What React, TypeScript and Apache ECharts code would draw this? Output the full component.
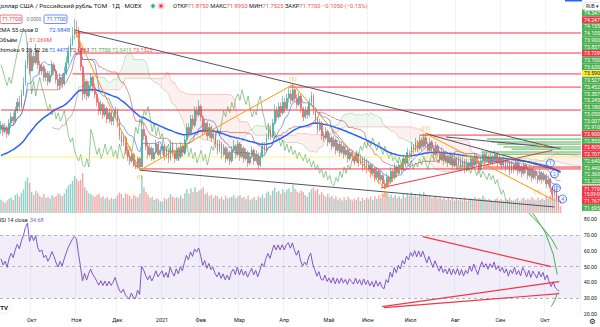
import React, { useEffect, useRef } from 'react';
import * as echarts from 'echarts';

type Row = [number, number, number, number]; // close, high, low, volume (mln)

const sep2020: Row[] = [
  [75.5, 75.7, 75.1, 62], [75.2, 75.6, 75.0, 55], [75.4, 75.6, 75.1, 48], [75.1, 75.5, 74.9, 58], [75.6, 75.8, 75.0, 66],
  [75.9, 76.1, 75.5, 72], [75.7, 76.1, 75.5, 60], [76.2, 76.4, 75.6, 84], [76.6, 76.8, 76.1, 90], [76.4, 76.9, 76.2, 76],
  [77.0, 77.2, 76.3, 95], [77.5, 77.8, 76.9, 110], [78.4, 78.6, 77.4, 150], [79.0, 79.5, 78.2, 165], [78.1, 79.2, 77.9, 140],
];
const oct2020: Row[] = [
  [78.8, 79.1, 78.1, 98], [78.5, 79.0, 78.3, 85], [79.1, 79.4, 78.4, 102], [78.4, 79.2, 78.2, 94], [78.1, 78.6, 77.9, 80],
  [78.3, 78.5, 77.9, 72], [77.8, 78.4, 77.6, 88], [78.0, 78.2, 77.6, 70], [77.6, 78.1, 77.4, 76], [77.9, 78.1, 77.5, 68],
  [78.4, 78.6, 77.8, 82], [78.1, 78.5, 77.9, 74], [77.7, 78.2, 77.5, 79], [77.4, 77.9, 77.2, 92], [77.8, 78.0, 77.2, 86],
  [77.5, 78.0, 77.3, 78], [78.0, 78.3, 77.4, 90], [78.5, 78.8, 77.9, 112], [79.0, 79.3, 78.4, 128], [79.4, 79.7, 78.8, 135],
  [79.8, 80.2, 79.3, 150], [80.1, 80.6, 79.6, 172],
];
const nov2020: Row[] = [
  [80.0, 80.5, 79.7, 160], [79.2, 80.2, 79.0, 148], [78.3, 79.4, 78.1, 155], [77.0, 78.4, 76.7, 185], [77.6, 77.9, 76.8, 120],
  [76.9, 77.7, 76.7, 105], [77.4, 77.6, 76.8, 92], [77.8, 78.0, 77.2, 88], [77.3, 77.9, 77.1, 80], [77.0, 77.5, 76.8, 76],
  [76.6, 77.1, 76.4, 84], [76.2, 76.8, 76.0, 90], [76.5, 76.7, 76.0, 72], [76.0, 76.6, 75.8, 78], [76.3, 76.5, 75.9, 66],
  [75.8, 76.4, 75.6, 74], [76.1, 76.3, 75.6, 62], [75.7, 76.2, 75.5, 70], [75.9, 76.1, 75.5, 64], [76.2, 76.4, 75.8, 68],
];
const dec2020: Row[] = [
  [75.6, 76.3, 75.4, 82], [75.0, 75.8, 74.8, 95], [74.7, 75.2, 74.5, 88], [74.9, 75.1, 74.5, 70], [74.3, 75.0, 74.1, 92],
  [74.0, 74.5, 73.8, 86], [73.8, 74.2, 73.6, 80], [74.1, 74.3, 73.7, 66], [73.6, 74.2, 73.5, 84], [73.5, 73.8, 73.4, 78],
  [73.9, 74.0, 73.4, 72], [73.5, 74.0, 73.35, 90], [75.3, 75.9, 73.5, 175], [75.0, 75.6, 74.8, 120], [74.5, 75.1, 74.3, 98],
  [74.1, 74.7, 73.9, 85], [74.4, 74.6, 74.0, 70], [73.9, 74.5, 73.8, 76], [74.2, 74.4, 73.8, 60], [74.6, 74.8, 74.1, 68],
  [74.1, 74.7, 74.0, 64], [74.3, 74.5, 73.9, 55],
];
const jan2021: Row[] = [
  [74.5, 74.8, 74.1, 52], [74.0, 74.6, 73.8, 70], [74.3, 74.5, 73.9, 64], [73.9, 74.4, 73.7, 72], [74.6, 74.8, 73.8, 88],
  [74.2, 74.7, 74.0, 76], [73.9, 74.3, 73.7, 70], [74.4, 74.6, 73.8, 74], [74.0, 74.5, 73.8, 68], [74.5, 74.7, 73.9, 80],
  [74.2, 74.6, 74.0, 66], [74.8, 75.0, 74.1, 92], [75.4, 75.6, 74.7, 110], [75.1, 75.6, 74.9, 90], [75.8, 76.0, 75.0, 115],
  [75.5, 76.0, 75.3, 96], [76.2, 76.4, 75.4, 120], [76.0, 76.4, 75.7, 98], [76.4, 76.7, 75.9, 105],
];
const feb2021: Row[] = [
  [75.9, 76.5, 75.7, 110], [75.2, 76.0, 75.0, 120], [75.6, 75.8, 75.1, 88], [75.0, 75.7, 74.8, 95], [75.4, 75.6, 74.9, 80],
  [74.9, 75.5, 74.7, 86], [75.1, 75.3, 74.8, 70], [74.6, 75.2, 74.4, 82], [74.3, 74.8, 74.1, 78], [74.6, 74.8, 74.2, 66],
  [74.1, 74.7, 73.9, 74], [74.4, 74.6, 74.0, 62], [73.9, 74.5, 73.7, 80], [74.2, 74.4, 73.8, 68], [73.8, 74.3, 73.6, 72],
  [74.3, 74.5, 73.7, 76], [74.5, 74.8, 74.2, 84], [74.1, 74.6, 73.9, 70], [74.6, 74.8, 74.0, 78],
];
const mar2021: Row[] = [
  [74.0, 74.7, 73.8, 82], [74.4, 74.6, 73.9, 70], [73.9, 74.5, 73.7, 76], [74.2, 74.4, 73.8, 64], [73.7, 74.3, 73.5, 80],
  [74.0, 74.2, 73.6, 62], [74.3, 74.5, 73.9, 68], [73.8, 74.4, 73.6, 74], [74.1, 74.3, 73.7, 60], [73.6, 74.2, 73.4, 78],
  [74.0, 74.2, 73.5, 72], [74.5, 74.7, 73.9, 86], [74.3, 74.7, 74.1, 70], [74.9, 75.1, 74.2, 94], [75.3, 75.5, 74.8, 100],
  [75.0, 75.5, 74.8, 82], [75.6, 75.8, 74.9, 105], [76.2, 76.5, 75.5, 118], [75.9, 76.4, 75.7, 96], [76.4, 76.6, 75.8, 102],
  [76.1, 76.6, 75.9, 88], [76.6, 76.9, 76.0, 110],
];
const apr2021: Row[] = [
  [76.3, 76.8, 76.1, 95], [76.8, 77.0, 76.2, 108], [77.0, 77.3, 76.6, 115], [76.7, 77.2, 76.5, 98], [77.2, 77.45, 76.6, 130],
  [76.8, 77.3, 76.6, 112], [76.5, 77.0, 76.3, 100], [76.9, 77.1, 76.4, 94], [76.3, 77.0, 76.1, 106], [75.9, 76.4, 75.7, 98],
  [76.2, 76.4, 75.8, 84], [76.0, 76.4, 75.8, 76], [76.6, 76.8, 75.9, 96], [76.9, 77.1, 76.5, 110], [76.2, 77.0, 76.0, 120],
  [75.8, 76.3, 75.6, 104], [75.3, 75.9, 75.1, 112], [75.6, 75.8, 75.2, 86], [75.0, 75.7, 74.8, 98], [74.9, 75.2, 74.7, 84],
  [75.2, 75.4, 74.8, 76], [74.7, 75.3, 74.5, 90],
];
const may2021: Row[] = [
  [74.9, 75.1, 74.6, 72], [74.5, 75.0, 74.3, 80], [74.8, 75.0, 74.4, 66], [74.3, 74.9, 74.1, 78], [74.6, 74.8, 74.2, 62],
  [74.2, 74.7, 74.0, 70], [74.5, 74.7, 74.1, 58], [74.1, 74.6, 73.9, 72], [74.3, 74.5, 74.0, 60], [73.9, 74.4, 73.7, 76],
  [74.2, 74.4, 73.8, 64], [74.0, 74.3, 73.8, 58], [73.8, 74.1, 73.6, 66], [74.1, 74.3, 73.7, 62], [73.7, 74.2, 73.5, 74],
  [73.9, 74.1, 73.6, 56], [73.5, 74.0, 73.3, 70], [73.8, 74.0, 73.4, 60], [73.4, 73.9, 73.2, 72],
];
const jun2021: Row[] = [
  [73.6, 73.8, 73.3, 64], [73.2, 73.7, 73.0, 76], [73.4, 73.6, 73.1, 60], [73.0, 73.5, 72.8, 78], [73.3, 73.5, 72.9, 66],
  [72.9, 73.4, 72.7, 82], [73.1, 73.3, 72.8, 70], [72.7, 73.2, 72.5, 88], [72.6, 72.9, 72.45, 96], [73.0, 73.2, 72.5, 90],
  [72.8, 73.1, 72.6, 74], [73.3, 73.5, 72.7, 86], [73.0, 73.4, 72.8, 72], [73.5, 73.7, 72.9, 84], [73.2, 73.6, 73.0, 70],
  [73.6, 73.8, 73.1, 78], [73.4, 73.7, 73.2, 66], [73.9, 74.1, 73.3, 90], [73.7, 74.0, 73.5, 72], [74.2, 74.4, 73.6, 94],
  [74.0, 74.3, 73.8, 80],
];
const jul2021: Row[] = [
  [74.5, 74.7, 73.9, 96], [74.3, 74.6, 74.1, 78], [74.7, 74.9, 74.2, 88], [74.4, 74.8, 74.2, 74], [74.8, 75.0, 74.3, 92],
  [74.5, 74.9, 74.3, 80], [74.9, 75.1, 74.4, 98], [74.6, 75.1, 74.4, 86], [74.3, 74.7, 74.1, 78], [74.7, 74.9, 74.2, 82],
  [74.4, 74.8, 74.2, 70], [74.1, 74.5, 73.9, 76], [74.5, 74.7, 74.0, 80], [74.2, 74.6, 74.0, 68], [73.9, 74.3, 73.7, 74],
  [74.2, 74.4, 73.8, 64], [73.8, 74.3, 73.6, 72], [74.0, 74.2, 73.7, 60], [73.7, 74.1, 73.5, 70], [74.0, 74.2, 73.6, 62],
  [73.6, 74.1, 73.4, 74], [73.9, 74.1, 73.5, 58],
];
const aug2021: Row[] = [
  [73.6, 74.0, 73.4, 66], [73.9, 74.1, 73.5, 60], [73.5, 74.0, 73.3, 70], [73.8, 74.0, 73.4, 58], [73.4, 73.9, 73.2, 72],
  [73.7, 73.9, 73.3, 56], [73.5, 73.8, 73.3, 62], [73.9, 74.1, 73.4, 68], [73.6, 74.0, 73.4, 60], [74.0, 74.2, 73.5, 74],
  [73.7, 74.1, 73.5, 64], [73.4, 73.8, 73.2, 70], [73.8, 74.0, 73.3, 66], [74.1, 74.3, 73.7, 80], [73.8, 74.2, 73.6, 68],
  [74.0, 74.2, 73.7, 60], [73.7, 74.1, 73.5, 66], [74.0, 74.2, 73.6, 62], [73.8, 74.1, 73.6, 56], [74.1, 74.3, 73.7, 64],
  [73.7, 74.2, 73.5, 70], [73.9, 74.1, 73.6, 58],
];
const sep2021: Row[] = [
  [73.6, 74.0, 73.4, 64], [73.8, 74.0, 73.5, 58], [73.5, 73.9, 73.3, 66], [73.7, 73.9, 73.4, 60], [73.3, 73.8, 73.1, 72],
  [73.6, 73.8, 73.2, 62], [73.4, 73.7, 73.2, 58], [73.7, 73.9, 73.3, 64], [73.3, 73.8, 73.1, 70], [73.5, 73.7, 73.2, 56],
  [73.2, 73.6, 73.0, 66], [73.6, 73.8, 73.1, 72], [73.4, 73.7, 73.2, 60], [73.1, 73.5, 72.9, 68], [73.4, 73.6, 73.0, 62],
  [73.0, 73.5, 72.8, 74], [73.3, 73.5, 72.9, 64], [73.1, 73.4, 72.9, 58], [72.9, 73.2, 72.7, 70], [73.2, 73.4, 72.8, 62],
  [72.9, 73.3, 72.7, 68], [73.1, 73.3, 72.8, 60],
];
const oct2021: Row[] = [
  [72.7, 73.2, 72.5, 78], [72.9, 73.1, 72.6, 66], [72.5, 73.0, 72.3, 82], [72.2, 72.6, 72.0, 90], [72.4, 72.6, 72.1, 74],
  [72.0, 72.5, 71.85, 88], [71.875, 72.15, 71.8, 80], [71.77, 71.895, 71.7525, 31.269],
];

const months: [string, Row[]][] = [
  ['2020-09', sep2020], ['2020-10', oct2020], ['2020-11', nov2020], ['2020-12', dec2020],
  ['2021-01', jan2021], ['2021-02', feb2021], ['2021-03', mar2021], ['2021-04', apr2021],
  ['2021-05', may2021], ['2021-06', jun2021], ['2021-07', jul2021], ['2021-08', aug2021],
  ['2021-09', sep2021], ['2021-10', oct2021],
];
const firstOpen = 75.3;
// indicator state carried in from the bars before the first one shown
const emaStart = 74.0;
const rsiStart = 55;
const rsiStartAvgMove = 0.3;
const emptyBarsRight = 10;
const monthNames = ['Янв', 'Фев', 'Мар', 'Апр', 'Май', 'Июн', 'Июл', 'Авг', 'Сен', 'Окт', 'Ноя', 'Дек'];

// drawing tools, [bar index, price]
const redLevels: [number, number][] = [
  [36, 79.92], [36, 78.96], [35, 77.96], [141, 77.33], [0, 76.23], [205, 75.03], [68, 73.41], [236, 73.5],
];
const greenLevels: [number, number][] = [
  [238, 74.84], [240, 74.7], [243, 74.6], [246, 74.46], [250, 74.36], [236, 74.22], [245, 74.12],
];
const yellowLevel: [number, number] = [0, 73.98];
const trendLines: [number, number, number, number][] = [
  [36, 80.06, 271, 74.43],
  [68, 73.35, 271, 71.59],
  [208, 75.1, 274, 73.3],
  [218, 74.94, 274, 74.4],
];
const redTrend: [number, number, number, number][] = [[186, 72.5, 270, 74.3]];
const wavePath: [number, number][] = [
  [36, 80.06], [68, 73.35], [143, 77.45], [188, 72.45], [208, 75.1], [271, 71.9],
];
const waveLabelsLow: [number, number, string][] = [[68, 73.35, '(I)'], [188, 72.45, '(III)'], [263, 72.6, '(1)']];
const waveLabelsHigh: [number, number, string][] = [[143, 77.45, '(II)'], [208, 75.1, '(IV)'], [265, 74.3, '(2)']];
const countMarks: [number, number, string][] = [[269, 73.69, '1'], [271, 73.17, '2'], [272, 72.5, '3'], [275, 71.97, '4']];
const rsiLines: [number, number, number, number][] = [
  [207, 69, 270, 50],
  [187, 24.7, 274, 40.5],
  [188, 24.0, 274, 32.9],
];
const rsiArcs: [number, number][][] = [
  [[259, 84], [265, 76], [270, 68], [273, 61]],
  [[261, 84], [267, 72], [271, 58], [273, 45]],
  [[270, 24.7], [272, 29], [273, 33.5]],
];

const emaText = '72.9848';
const ichimokuTexts: [string, string][] = [
  ['72.4475', '#2962FF'], ['72.6363', '#B71C1C'], ['71.7700', '#43A047'], ['72.5419', '#66BB6A'], ['73.1325', '#EF5350'],
];
const rsiText = '34.68';

// price tags stacked on the right scale
const priceTags: [string, string][] = [
  ['74.3475', 'g'], ['74.2475', 'r'], ['74.1550', 'g'], ['74.1050', 'g'], ['73.9000', 'g'], ['73.8575', 'g'],
  ['73.7290', 'r'], ['73.7000', 'g'], ['73.6300', 'g'], ['73.5900', 'y'], ['73.5275', 'g'], ['73.4525', 'g'],
  ['73.3575', 'g'], ['73.2450', 'g'], ['73.1800', 'g'], ['73.0500', 'g'], ['73.0075', 'g'], ['72.9100', 'g'],
  ['72.9000', 'r'], ['72.8550', 'g'], ['72.8050', 'r'], ['72.7075', 'r'], ['72.6400', 'g'], ['72.4400', 'g'],
  ['72.3600', 'g'], ['72.2050', 'g'],
];
const lastTag = ['71.7700', '15:09:06'];
const tailTags: [string, string][] = [['71.7675', 'r'], ['71.6950', 'g']];

const FONT = 'Roboto, "Noto Sans", sans-serif';
const UP = '#26a69a';
const DOWN = '#ef5350';
const SMALL = 5.8;

function buildOption() {
  const cats: string[] = [];
  const candles: number[][] = [];
  const highs: number[] = [];
  const lows: number[] = [];
  const closes: number[] = [];
  const vols: any[] = [];
  let prev = firstOpen;
  months.forEach(([ym, rows]) => {
    rows.forEach((r, k) => {
      cats.push(`${ym}#${k}`);
      candles.push([prev, r[0], r[2], r[1]]);
      vols.push({ value: r[3], itemStyle: { color: r[0] >= prev ? 'rgba(38,166,154,0.5)' : 'rgba(239,83,80,0.5)' } });
      highs.push(r[1]);
      lows.push(r[2]);
      closes.push(r[0]);
      prev = r[0];
    });
  });
  const N = closes.length;
  for (let f = 0; f < emptyBarsRight; f++) cats.push(`f${f}`);
  const M = cats.length;
  const last = M - 1;

  const mid = (i: number, len: number) => {
    let hi = -Infinity;
    let lo = Infinity;
    for (let j = Math.max(0, i - len + 1); j <= i; j++) {
      hi = Math.max(hi, highs[j]);
      lo = Math.min(lo, lows[j]);
    }
    return (hi + lo) / 2;
  };
  const shift = 25;
  const tenkan: any[] = cats.map((_, i) => (i < N ? mid(i, 9) : '-'));
  const kijun: any[] = cats.map((_, i) => (i < N ? mid(i, 26) : '-'));
  const leadA: any[] = new Array(M).fill('-');
  const leadB: any[] = new Array(M).fill('-');
  const chikou: any[] = new Array(M).fill('-');
  for (let i = 0; i < N; i++) {
    if (i + shift < M) {
      leadA[i + shift] = (tenkan[i] + kijun[i]) / 2;
      leadB[i + shift] = mid(i, 52);
    }
    if (i - shift >= 0) chikou[i - shift] = closes[i];
  }
  const cloudBase = leadA.map((a, i) => (a === '-' ? '-' : Math.min(a, leadB[i])));
  const cloudUp = leadA.map((a, i) => (a === '-' ? '-' : a >= leadB[i] ? a - leadB[i] : 0));
  const cloudDown = leadA.map((a, i) => (a === '-' ? '-' : leadB[i] > a ? leadB[i] - a : 0));

  const ema: any[] = [];
  let e = emaStart;
  const k = 2 / 56;
  for (let i = 0; i < M; i++) {
    if (i < N) {
      e = closes[i] * k + e * (1 - k);
      ema.push(e);
    } else ema.push('-');
  }

  // Wilder RSI(14)
  let ag = (rsiStartAvgMove * rsiStart) / 100;
  let al = (rsiStartAvgMove * (100 - rsiStart)) / 100;
  const rsi: any[] = new Array(M).fill('-');
  rsi[0] = rsiStart;
  for (let i = 1; i < N; i++) {
    const ch = closes[i] - closes[i - 1];
    ag = (ag * 13 + Math.max(ch, 0)) / 14;
    al = (al * 13 + Math.max(-ch, 0)) / 14;
    rsi[i] = al === 0 ? 100 : 100 - 100 / (1 + ag / al);
  }

  const isMonthStart = (v: string) => v.endsWith('#0') && !v.startsWith(months[0][0]);
  const monthLabel = (v: string) => {
    const [y, m] = v.split('#')[0].split('-').map(Number);
    return m === 1 ? String(y) : monthNames[m - 1];
  };

  const seg = (pts: number[][], color: string, width: number, xi: number, z = 5) => ({
    type: 'line',
    xAxisIndex: xi,
    yAxisIndex: xi,
    data: pts,
    symbol: 'none',
    silent: true,
    z,
    lineStyle: { color, width },
  });
  const tagSeries = (pts: [number, number, string][], position: string, color: string) => ({
    type: 'scatter', data: pts.map((w) => [w[0], w[1]]), symbolSize: 0, silent: true, z: 8,
    label: {
      show: true, position, distance: 3, color, fontSize: 6, fontFamily: FONT,
      formatter: (p: any) => pts[p.dataIndex][2],
    },
  });

  const series: any[] = [
    { type: 'bar', xAxisIndex: 1, yAxisIndex: 1, data: vols, barWidth: '70%', silent: true, z: 1 },
    { type: 'line', data: cloudBase, stack: 'cloud', symbol: 'none', lineStyle: { width: 0, opacity: 0 }, silent: true, z: 2 },
    {
      type: 'line', data: cloudUp, stack: 'cloud', symbol: 'none', lineStyle: { width: 0, opacity: 0 },
      areaStyle: { color: 'rgba(67,160,71,0.12)' }, silent: true, z: 2,
    },
    {
      type: 'line', data: cloudDown, stack: 'cloud', symbol: 'none', lineStyle: { width: 0, opacity: 0 },
      areaStyle: { color: 'rgba(244,67,54,0.12)' }, silent: true, z: 2,
    },
    { type: 'line', data: leadA, symbol: 'none', lineStyle: { color: 'rgba(67,160,71,0.35)', width: 0.8 }, silent: true, z: 3 },
    { type: 'line', data: leadB, symbol: 'none', lineStyle: { color: 'rgba(244,67,54,0.35)', width: 0.8 }, silent: true, z: 3 },
    { type: 'line', data: chikou, symbol: 'none', lineStyle: { color: 'rgba(67,160,71,0.7)', width: 0.8 }, silent: true, z: 3 },
    { type: 'line', data: kijun, symbol: 'none', lineStyle: { color: 'rgba(183,28,28,0.6)', width: 0.8 }, silent: true, z: 3 },
    { type: 'line', data: tenkan, symbol: 'none', lineStyle: { color: 'rgba(41,98,255,0.75)', width: 0.8 }, silent: true, z: 3 },
    { type: 'line', data: ema, symbol: 'none', lineStyle: { color: '#2962FF', width: 1.5 }, silent: true, z: 4 },
    {
      type: 'candlestick', data: candles, barWidth: '65%', silent: true, z: 5,
      itemStyle: { color: UP, color0: DOWN, borderColor: UP, borderColor0: DOWN, borderWidth: 0.6 },
    },
  ];

  series.push(seg([[yellowLevel[0], yellowLevel[1]], [last, yellowLevel[1]]], 'rgba(255,235,59,0.45)', 1.5, 0, 4));
  redLevels.forEach(([i, p]) => series.push(seg([[i, p], [last, p]], '#F23645', 1, 0, 6)));
  greenLevels.forEach(([i, p]) => series.push(seg([[i, p], [last, p]], '#4CAF50', 1, 0, 6)));
  trendLines.forEach(([i1, p1, i2, p2]) => series.push(seg([[i1, p1], [i2, p2]], '#50535E', 1, 0, 7)));
  redTrend.forEach(([i1, p1, i2, p2]) => series.push(seg([[i1, p1], [i2, p2]], '#F23645', 1, 0, 7)));
  series.push(seg(wavePath, '#FF9800', 1, 0, 7));
  series.push(tagSeries(waveLabelsLow, 'bottom', '#FF9800'));
  series.push(tagSeries(waveLabelsHigh, 'top', '#FF9800'));
  series.push({
    type: 'scatter', data: countMarks.map((c) => [c[0], c[1]]), symbol: 'circle', symbolSize: 8, silent: true, z: 9,
    itemStyle: { color: 'rgba(41,98,255,0.08)', borderColor: '#2962FF', borderWidth: 1 },
    label: {
      show: true, position: 'inside', color: '#2962FF', fontSize: 5, fontFamily: FONT,
      formatter: (p: any) => countMarks[p.dataIndex][2],
    },
  });

  series.push({
    type: 'line', xAxisIndex: 2, yAxisIndex: 2, data: rsi, symbol: 'none', silent: true, z: 5,
    lineStyle: { color: '#7E57C2', width: 1 },
    markArea: { silent: true, itemStyle: { color: 'rgba(126,87,194,0.1)' }, data: [[{ yAxis: 30 }, { yAxis: 70 }]] },
    markLine: {
      silent: true, symbol: 'none', label: { show: false },
      lineStyle: { color: '#B2B5BE', type: [3, 3], width: 1 },
      data: [{ yAxis: 70 }, { yAxis: 50 }, { yAxis: 30 }],
    },
  });
  rsiLines.forEach(([i1, v1, i2, v2]) => series.push(seg([[i1, v1], [i2, v2]], '#F23645', 1.2, 2, 6)));
  rsiArcs.forEach((pts) => series.push(seg(pts, '#4CAF50', 1, 2, 6)));

  const xBase = {
    type: 'category', data: cats, boundaryGap: true,
    axisLine: { show: false }, axisTick: { show: false },
  };

  // header / legend
  const t = (x: number, y: number, text: string, fill: string, size = SMALL, extra: any = {}) => ({
    type: 'text', x, y, z: 130,
    style: { text, fill, fontSize: size, fontFamily: FONT, verticalAlign: 'middle', ...extra },
  });
  const lc = candles[N - 1];
  const change = lc[1] - candles[N - 2][1];
  const pct = (change / candles[N - 2][1]) * 100;
  const sgn = (v: number, d: number) => (v < 0 ? '\u2212' : '+') + Math.abs(v).toFixed(d);
  const ohlcRich = {
    l: { fill: '#131722', fontSize: SMALL, fontFamily: FONT },
    v: { fill: DOWN, fontSize: SMALL, fontFamily: FONT },
  };
  const vol = vols[N - 1].value;

  const graphic: any[] = [
    t(-4, 6, 'Доллар США / Российский рубль TOM · 1Д · MOEX', '#131722', 6.2),
    { type: 'circle', shape: { cx: 153, cy: 6, r: 3.2 }, style: { fill: '#d7f0ec' }, z: 100 },
    { type: 'circle', shape: { cx: 153, cy: 6, r: 1.7 }, style: { fill: UP }, z: 101 },
    { type: 'rect', shape: { x: 157.5, y: 2.8, width: 7, height: 6.4, r: 1.5 }, style: { fill: '#fbd5d7' }, z: 100 },
    { type: 'rect', shape: { x: 159.5, y: 4.5, width: 3, height: 3 }, style: { fill: '#F23645' }, z: 101 },
    {
      type: 'text', x: 173, y: 6, z: 130,
      style: {
        text: `{l|ОТКР}{v|${lc[0].toFixed(4)}} {l|МАКС}{v|${lc[3].toFixed(4)}} {l|МИН}{v|${lc[2].toFixed(4)}} {l|ЗАКР}{v|${lc[1].toFixed(4)}} {v|${sgn(change, 4)} (${sgn(pct, 2)}%)}`,
        rich: ohlcRich, verticalAlign: 'middle', fontSize: SMALL, fontFamily: FONT,
      },
    },
    { type: 'rect', shape: { x: 0, y: 15, width: 22, height: 8.5, r: 1.5 }, style: { fill: '#fff', stroke: '#F23645', lineWidth: 0.7 }, z: 100 },
    t(2, 19.3, lc[1].toFixed(4), '#F23645', 5.3),
    t(26.5, 19.3, '0.0000', '#787B86', 4.8),
    { type: 'rect', shape: { x: 44, y: 15, width: 23, height: 8.5, r: 1.5 }, style: { fill: '#fff', stroke: '#2962FF', lineWidth: 0.7 }, z: 100 },
    t(46.5, 19.3, lc[1].toFixed(4), '#2962FF', 5.3),
    t(-2, 30, 'EMA 55 close 0', '#131722'),
    t(49, 30, emaText, '#2962FF'),
    t(-1, 40, 'Объём', '#131722'),
    t(29, 40, `${vol.toFixed(3)}M`, DOWN),
    t(-4, 50, 'Ichimoku 9 26 52 26', '#131722'),
    ...ichimokuTexts.map(([s, c], i) => t(49 + i * 21, 50, s, c, 5.4)),
    t(-2, 220, 'RSI 14 close', '#131722', 5.4),
    t(30, 220, rsiText, '#7E57C2', 5.4),
    { type: 'circle', shape: { cx: 4, cy: 307, r: 6.5 }, style: { fill: '#fff', stroke: '#e0e3eb', lineWidth: 0.6 }, z: 100 },
    t(0.3, 307.3, 'TV', '#131722', 6, { fontWeight: 'bold' }),
    t(589, 321, '⚙', '#131722', 7.5, { fontFamily: 'DejaVu Sans' }),
    { type: 'rect', shape: { x: 565, y: 0, width: 17, height: 1.5 }, style: { fill: '#2962FF' }, z: 100 },
  ];

  const tagColor: Record<string, string> = { g: '#4CAF50', r: '#F23645', y: '#FFEB3B' };
  const tagStep = 6.72;
  const tagFont = 5.2;
  priceTags.forEach(([s, kind], i) => {
    const y = 13 + i * tagStep;
    graphic.push({ type: 'rect', shape: { x: 582, y: y - 3.35, width: 30, height: 6.7 }, style: { fill: tagColor[kind] }, z: 110 });
    graphic.push(t(584, y, s, kind === 'y' ? '#131722' : '#fff', tagFont));
  });
  graphic.push({ type: 'rect', shape: { x: 582, y: 185.5, width: 30, height: 12 }, style: { fill: '#F23645' }, z: 110 });
  graphic.push(t(584, 188.8, lastTag[0], '#fff', tagFont));
  graphic.push(t(584, 194.4, lastTag[1], '#fff', 4.8));
  tailTags.forEach(([s, kind], i) => {
    const y = 200.8 + i * tagStep;
    graphic.push({ type: 'rect', shape: { x: 582, y: y - 3.35, width: 30, height: 6.7 }, style: { fill: tagColor[kind] }, z: 110 });
    graphic.push(t(584, y, s, '#fff', tagFont));
  });
  graphic.push({ type: 'rect', shape: { x: 584, y: 2.5, width: 20, height: 8, r: 1.5 }, style: { fill: '#fff', stroke: '#d1d4dc', lineWidth: 0.6 }, z: 140 });
  graphic.push({ ...t(586, 6.7, 'RUB ▾', '#131722', 4.6), z: 150 });

  return {
    animation: false,
    backgroundColor: '#ffffff',
    grid: [
      { left: 0, right: 18, top: 0, height: 213 },
      { left: 0, right: 18, top: 170, height: 43 },
      { left: 0, right: 18, top: 213, height: 101 },
    ],
    xAxis: [
      {
        ...xBase, gridIndex: 0, axisLabel: { show: false },
        splitLine: { show: true, interval: (_: number, v: string) => isMonthStart(v), lineStyle: { color: '#f0f3fa' } },
      },
      { ...xBase, gridIndex: 1, axisLabel: { show: false }, splitLine: { show: false } },
      {
        ...xBase, gridIndex: 2,
        axisLabel: {
          show: true, interval: (_: number, v: string) => isMonthStart(v), formatter: monthLabel,
          fontSize: 5.5, color: '#131722', fontFamily: FONT, margin: 3,
        },
        splitLine: { show: true, interval: (_: number, v: string) => isMonthStart(v), lineStyle: { color: '#f0f3fa' } },
      },
    ],
    yAxis: [
      {
        gridIndex: 0, type: 'value', position: 'right', min: 71.3, max: 81.5, scale: true,
        axisLabel: { show: false }, axisLine: { show: false }, axisTick: { show: false }, splitLine: { show: false },
      },
      {
        gridIndex: 1, type: 'value', min: 0, max: 200,
        axisLabel: { show: false }, axisLine: { show: false }, axisTick: { show: false }, splitLine: { show: false },
      },
      {
        gridIndex: 2, type: 'value', position: 'right', min: 20, max: 84, interval: 10,
        axisLabel: {
          show: true, fontSize: 5.3, color: '#131722', fontFamily: FONT, margin: 3,
          formatter: (v: number) => (v % 10 === 0 && v <= 80 ? v.toFixed(2) : ''),
        },
        axisLine: { show: false }, axisTick: { show: false }, splitLine: { show: false },
      },
    ],
    series,
    graphic,
  };
}

export default function App() {
  const ref = useRef<HTMLDivElement>(null);
  useEffect(() => {
    if (!ref.current) return;
    const chart = echarts.init(ref.current, undefined, { renderer: 'svg' });
    chart.setOption(buildOption() as any);
    return () => chart.dispose();
  }, []);
  return (
    <div style={{ position: 'fixed', left: 0, top: 0, width: 600, height: 327, overflow: 'hidden', background: '#fff' }}>
      <div ref={ref} style={{ width: 600, height: 327 }} />
    </div>
  );
}
